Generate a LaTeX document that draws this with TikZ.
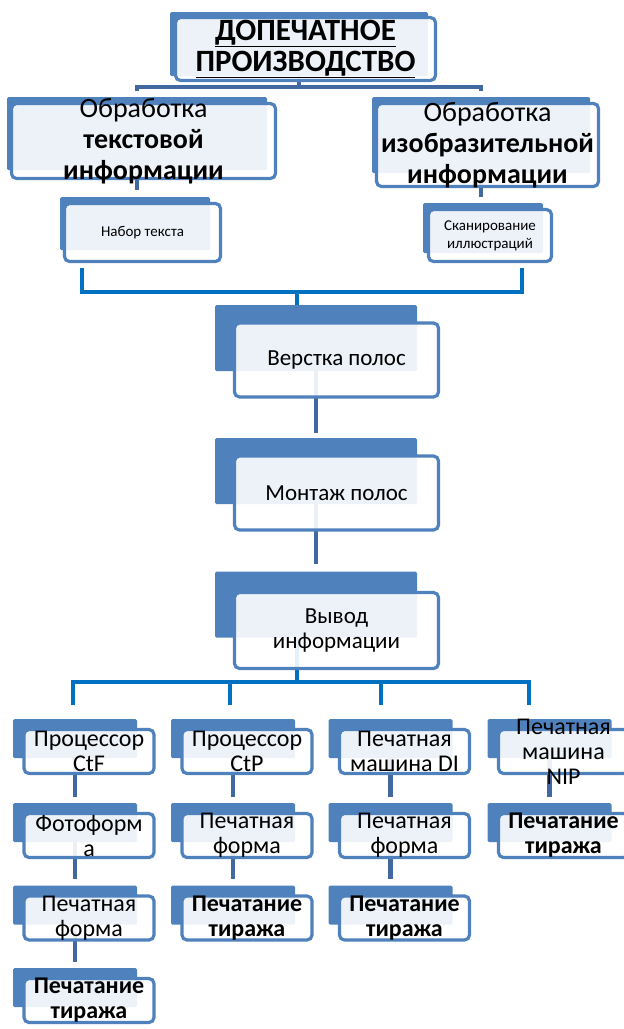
\documentclass[tikz,border=0pt]{standalone}
\usepackage{fontspec}
\setmainfont{Carlito}
\usetikzlibrary{backgrounds,calc}

\definecolor{boxblue}{HTML}{4F81BD}
\definecolor{linkdark}{HTML}{41699F}
\definecolor{linkbright}{HTML}{0070C0}

\begin{document}
\begin{tikzpicture}[
      x=1pt, y=-1pt,
      back/.style={rectangle,rounded corners=1.5pt,fill=boxblue,inner sep=0pt},
      front/.style={rectangle,rounded corners=5pt,draw=boxblue,line width=3.2pt,
        fill=white,fill opacity=0.9,inner sep=0pt},
      txt/.style={align=center,text=black,text opacity=1,inner sep=0pt},
      colb/.style={back,minimum width=124pt,minimum height=39pt},
      colf/.style={front,minimum width=130pt,minimum height=44pt},
      midb/.style={back,minimum width=202pt,minimum height=66pt},
      midf/.style={front,minimum width=204pt,minimum height=74pt},
      coltxt/.style={txt,font={\fontsize{24}{25}\selectfont}},
      dk/.style={draw=linkdark,line width=4.5pt},
      br/.style={draw=linkbright,line width=4pt}
    ]
    \useasboundingbox (0,0) rectangle (624,1029);

    % Head
    \node[back,minimum width=258pt,minimum height=64pt] (topb) at (299,44) {};
    \node[front,minimum width=260pt,minimum height=63pt,
      label={[txt,font={\fontsize{31}{31}\selectfont\bfseries}]center:{\underline{ДОПЕЧАТНОЕ}\\\underline{ПРОИЗВОДСТВО}}}]
      (topf) at (305.5,49) {};

    % Second level
    \node[back,minimum width=260pt,minimum height=73pt] (l2ab) at (137,133.5) {};
    \node[front,minimum width=264pt,minimum height=75pt,
      label={[txt,font={\fontsize{28}{31}\selectfont}]center:{Обработка\\\textbf{текстовой}\\\textbf{информации}}}]
      (l2af) at (143.5,141) {};
    \node[back,minimum width=218pt,minimum height=76pt] (l2bb) at (481,135) {};
    \node[front,minimum width=222pt,minimum height=83pt,
      label={[txt,font={\fontsize{28}{31}\selectfont}]center:{Обработка\\\textbf{изобразительной}\\\textbf{информации}}}]
      (l2bf) at (487.5,145) {};

    \node[back,minimum width=150pt,minimum height=53pt] (naborb) at (135,223.5) {};
    \node[front,minimum width=156pt,minimum height=58pt,
      label={[txt,font={\fontsize{15}{18}\selectfont}]center:{Набор текста}}]
      (naborf) at (142.5,232.5) {};
    \node[back,minimum width=120pt,minimum height=50pt] (scanb) at (483,228) {};
    \node[front,minimum width=123pt,minimum height=52pt,
      label={[txt,font={\fontsize{15}{18}\selectfont}]center:{Сканирование\\иллюстраций}}]
      (scanf) at (490,235.5) {};

    % Middle chain
    \node[midb] (verb) at (316,338) {};
    \node[midf,label={[txt,font={\fontsize{23}{25}\selectfont}]center:{Верстка полос}}]
      (verf) at ($(verb)+(20.5,22)$) {};
    \node[midb] (montb) at (316,471) {};
    \node[midf,label={[txt,font={\fontsize{23}{25}\selectfont}]center:{Монтаж полос}}]
      (montf) at ($(montb)+(20.5,22)$) {};
    \node[midb] (vyvb) at (316,604.5) {};
    \node[midf,minimum height=76pt,label={[txt,font={\fontsize{23}{25}\selectfont}]center:{Вывод\\информации}}]
      (vyvf) at ($(vyvb)+(20.5,26)$) {};

    % Columns
    \node[colb] (c1r1b) at (75,738.5) {};
    \node[colf,label={[coltxt]center:{Процессор\\CtF}}] (c1r1f) at ($(c1r1b)+(14,13)$) {};
    \node[colb] (c1r2b) at (75,822.5) {};
    \node[colf,label={[coltxt]center:{Фотоформ\\а}}] (c1r2f) at ($(c1r2b)+(14,13)$) {};
    \node[colb] (c1r3b) at (75,905) {};
    \node[colf,label={[coltxt]center:{Печатная\\форма}}] (c1r3f) at ($(c1r3b)+(14,13)$) {};
    \node[colb] (c1r4b) at (75,987.5) {};
    \node[colf,label={[coltxt]center:{\textbf{Печатание}\\\textbf{тиража}}}] (c1r4f) at ($(c1r4b)+(14,13)$) {};

    \node[colb] (c2r1b) at (233,738.5) {};
    \node[colf,label={[coltxt]center:{Процессор\\CtP}}] (c2r1f) at ($(c2r1b)+(14,13)$) {};
    \node[colb] (c2r2b) at (233,822.5) {};
    \node[colf,label={[coltxt]center:{Печатная\\форма}}] (c2r2f) at ($(c2r2b)+(14,13)$) {};
    \node[colb] (c2r3b) at (233,905) {};
    \node[colf,label={[coltxt]center:{\textbf{Печатание}\\\textbf{тиража}}}] (c2r3f) at ($(c2r3b)+(14,13)$) {};

    \node[colb] (c3r1b) at (390.5,738.5) {};
    \node[colf,label={[coltxt]center:{Печатная\\машина DI}}] (c3r1f) at ($(c3r1b)+(14,13)$) {};
    \node[colb] (c3r2b) at (390.5,822.5) {};
    \node[colf,label={[coltxt]center:{Печатная\\форма}}] (c3r2f) at ($(c3r2b)+(14,13)$) {};
    \node[colb] (c3r3b) at (390.5,905) {};
    \node[colf,label={[coltxt]center:{\textbf{Печатание}\\\textbf{тиража}}}] (c3r3f) at ($(c3r3b)+(14,13)$) {};

    \node[colb] (c4r1b) at (549.5,738.5) {};
    \node[colf,label={[coltxt]center:{Печатная\\машина\\NIP}}] (c4r1f) at ($(c4r1b)+(14,13)$) {};
    \node[colb] (c4r2b) at (549.5,822.5) {};
    \node[colf,label={[coltxt]center:{\textbf{Печатание}\\\textbf{тиража}}}] (c4r2f) at ($(c4r2b)+(14,13)$) {};

    % Links, behind the boxes
    \begin{scope}[on background layer]
      \path (topb.south) ++(0,11) coordinate (hub1);
      \draw[dk] (topb.south) -- (hub1);
      \draw[dk] ($(l2ab.north)+(0,-6)$) |- (hub1) -| ($(l2bb.north)+(0,-6)$);
      \draw[dk] (l2ab) -- ($(l2ab |- naborb.north)+(0,-7)$);
      \draw[dk] (l2bb) -- ($(l2bb |- scanb.north)+(0,-6)$);

      \coordinate (brL) at (82,268);
      \coordinate (brR) at (522,268);
      \coordinate (hub2) at (297,292);
      \draw[br] (brL) |- (hub2) -| (brR);
      \draw[br] (hub2) -- (hub2 |- verb.center);

      \draw[dk] (verb) -- ($(montb.north)+(0,-5)$);
      \draw[dk] (montb) -- ($(vyvb.north)+(0,-7)$);

      \coordinate (hub3) at (297,682);
      \coordinate (d1) at (73,705);
      \coordinate (d2) at (230,705);
      \coordinate (d3) at (381,705);
      \coordinate (d4) at (529,705);
      \draw[br] (hub3 |- vyvb.center) -- (hub3);
      \draw[br] (d1) |- (hub3) -| (d4);
      \draw[br] (d2) -- (d2 |- hub3);
      \draw[br] (d3) -- (d3 |- hub3);

      \draw[dk] (c1r1b) -- ($(c1r2b.north)+(0,-6)$);
      \draw[dk] (c1r2b) -- ($(c1r3b.north)+(0,-6)$);
      \draw[dk] (c1r3b) -- ($(c1r4b.north)+(0,-6)$);
      \draw[dk] (c2r1b) -- ($(c2r2b.north)+(0,-6)$);
      \draw[dk] (c2r2b) -- ($(c2r3b.north)+(0,-6)$);
      \draw[dk] (c3r1b) -- ($(c3r2b.north)+(0,-6)$);
      \draw[dk] (c3r2b) -- ($(c3r3b.north)+(0,-6)$);
      \draw[dk] (c4r1b) -- ($(c4r2b.north)+(0,-6)$);
    \end{scope}

  \end{tikzpicture}
\end{document}
